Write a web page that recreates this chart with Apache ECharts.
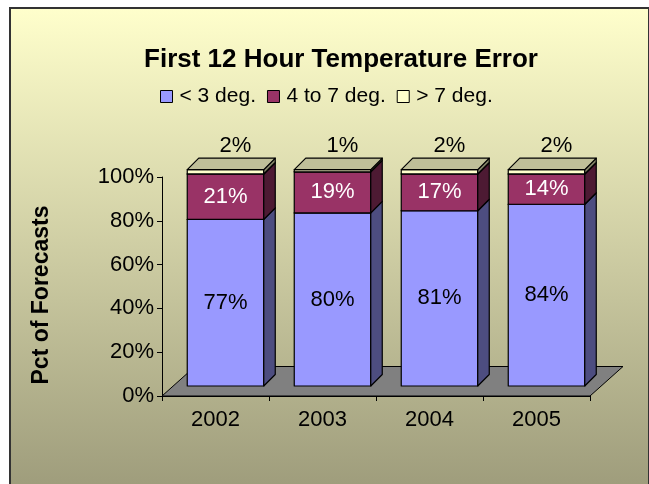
<!DOCTYPE html>
<html>
<head>
<meta charset="utf-8">
<title>First 12 Hour Temperature Error</title>
<style>
  html, body { margin: 0; padding: 0; background: #fff; }
  #main { width: 649px; height: 484px; }
</style>
<script src="https://cdn.jsdelivr.net/npm/echarts@6/dist/echarts.min.js"></script>
</head>
<body>
<div id="main"></div>
<script>
// data (percent of forecasts)
var years = ['2002', '2003', '2004', '2005'];
var under3 = [77, 80, 81, 84];
var from4to7 = [21, 19, 17, 14];
var over7 = [2, 1, 2, 2];
var yTicks = [0, 20, 40, 60, 80, 100];
var seriesNames = ['< 3 deg.', '4 to 7 deg.', '> 7 deg.'];

// look
var seriesColors = ['#9999FF', '#993366', '#FFFFCC'];
var labelColors = ['#000000', '#FFFFFF', '#000000'];
var FONT = '"Liberation Sans", Arial, sans-serif';

// fake 3d: front face offset from the axis plane, box depth, floor depth
var DX0 = 10, DY0 = -10, K = 0.988;
var DEPTH_X = 11.5, DEPTH_Y = -11.5;
var FLOOR_X = 33, FLOOR_Y = -29.5;

function shade(hex, f) {
  var n = parseInt(hex.slice(1), 16);
  var r = Math.round(((n >> 16) & 255) * f);
  var g = Math.round(((n >> 8) & 255) * f);
  var b = Math.round((n & 255) * f);
  return 'rgb(' + r + ',' + g + ',' + b + ')';
}

// stack rows: [category index, base, value]
var stacks = [under3, from4to7, over7];
var rows = stacks.map(function (vals, s) {
  return vals.map(function (v, i) {
    var base = 0;
    for (var k = 0; k < s; k++) base += stacks[k][i];
    return [i, base, v];
  });
});

function boxRenderer(s) {
  return function (params, api) {
    var i = api.value(0), b = api.value(1), v = api.value(2);
    var c0 = api.coord([i, 0]);
    var y0 = c0[1];
    var w = api.size([1, 0])[0] * 0.715;
    var xl = c0[0] - w / 2 + DX0, xr = xl + w;
    var yb = y0 + (api.coord([i, b])[1] - y0) * K + DY0;
    var yt = y0 + (api.coord([i, b + v])[1] - y0) * K + DY0;
    var col = seriesColors[s];
    var line = { stroke: '#000', lineWidth: 1.2, lineJoin: 'round' };
    var children = [
      { type: 'polygon', shape: { points: [[xl, yb], [xr, yb], [xr, yt], [xl, yt]] },
        style: Object.assign({ fill: col }, line) },
      { type: 'polygon', shape: { points: [[xr, yb], [xr + DEPTH_X, yb + DEPTH_Y], [xr + DEPTH_X, yt + DEPTH_Y], [xr, yt]] },
        style: Object.assign({ fill: shade(col, 0.5) }, line) },
      { type: 'polygon', shape: { points: [[xl, yt], [xr, yt], [xr + DEPTH_X, yt + DEPTH_Y], [xl + DEPTH_X, yt + DEPTH_Y]] },
        style: Object.assign({ fill: shade(col, 0.75) }, line) }
    ];
    var lx = (xl + xr) / 2, ly = (yb + yt) / 2;
    if (s === 2) { lx += 10; ly = yt - 24; }
    children.push({
      type: 'text', z2: 10,
      style: { text: v + '%', x: lx, y: ly, fill: labelColors[s], fontSize: 22, fontFamily: FONT,
        align: 'center', verticalAlign: 'middle' }
    });
    return { type: 'group', children: children };
  };
}

var series = [{
  name: 'floor', type: 'custom', coordinateSystem: 'cartesian2d', silent: true, z: 1,
  data: [[0, 0]],
  renderItem: function (params, api) {
    var cs = params.coordSys;
    var yb = cs.y + cs.height, xl = cs.x, xr = cs.x + cs.width;
    return {
      type: 'polygon',
      shape: { points: [[xl, yb], [xr, yb], [xr + FLOOR_X, yb + FLOOR_Y], [xl + FLOOR_X, yb + FLOOR_Y]] },
      style: { fill: '#808080', stroke: '#000', lineWidth: 1 }
    };
  }
}];
rows.forEach(function (data, s) {
  series.push({
    name: seriesNames[s], type: 'custom', coordinateSystem: 'cartesian2d', z: 3,
    itemStyle: { color: seriesColors[s] },
    encode: { x: 0, y: 2 },
    data: data,
    renderItem: boxRenderer(s)
  });
});

var chart = echarts.init(document.getElementById('main'));
chart.setOption({
  animation: false,
  graphic: [
    { type: 'rect', z: -10, silent: true, left: 9, top: 7,
      shape: { width: 639, height: 500 },
      style: {
        fill: new echarts.graphic.LinearGradient(0, 0, 0, 1, [
          { offset: 0, color: '#FFFFCC' }, { offset: 1, color: '#9A9878' }
        ]),
        stroke: '#333', lineWidth: 2
      } },
    { type: 'text', x: 42, y: 295, rotation: Math.PI / 2,
      style: { text: 'Pct of Forecasts', fill: '#000', fontSize: 23, fontWeight: 'bold', fontFamily: FONT,
        align: 'center', verticalAlign: 'middle' } }
  ],
  title: {
    text: 'First 12 Hour Temperature Error',
    left: 336, top: 42, textAlign: 'center',
    textStyle: { fontSize: 26, fontWeight: 'bold', color: '#000', fontFamily: FONT }
  },
  legend: {
    data: seriesNames,
    left: 160, top: 86, padding: 0,
    icon: 'rect', itemWidth: 12, itemHeight: 12, itemGap: 11,
    itemStyle: { borderColor: '#000', borderWidth: 1 },
    textStyle: { fontSize: 21, color: '#000', fontFamily: FONT, padding: [0, 0, 0, 2] }
  },
  grid: { left: 162, right: 59, top: 177, bottom: 88 },
  xAxis: {
    type: 'category', data: years, boundaryGap: true,
    axisLine: { lineStyle: { color: '#000', width: 1 } },
    axisTick: { show: true, length: 5, lineStyle: { color: '#000' } },
    axisLabel: { fontSize: 22, color: '#000', fontFamily: FONT, margin: 13 },
    splitLine: { show: false }
  },
  yAxis: {
    type: 'value', min: yTicks[0], max: yTicks[yTicks.length - 1], interval: yTicks[1] - yTicks[0],
    axisLine: { show: true, lineStyle: { color: '#000', width: 1 } },
    axisTick: { show: true, length: 5, lineStyle: { color: '#000' } },
    axisLabel: { fontSize: 22, color: '#000', fontFamily: FONT, margin: 8, formatter: '{value}%' },
    splitLine: { show: false }
  },
  series: series
});
</script>
</body>
</html>
